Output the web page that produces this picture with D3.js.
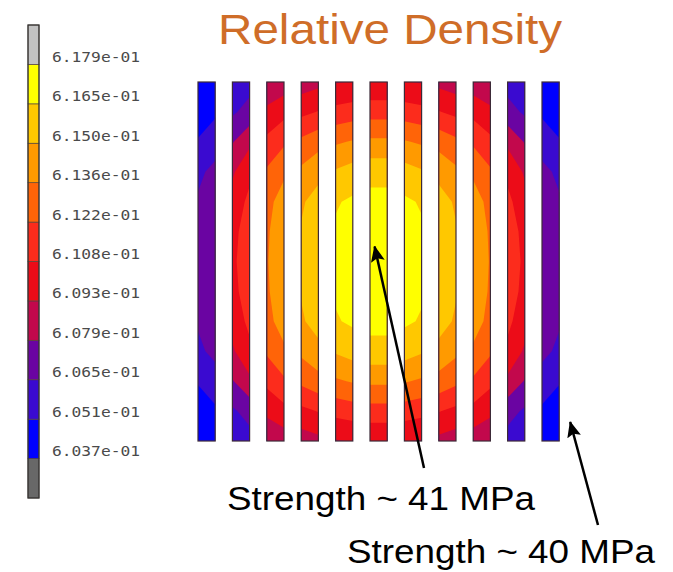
<!DOCTYPE html>
<html>
<head>
<meta charset="utf-8">
<script src="https://cdn.jsdelivr.net/npm/d3@7"></script>
<style>
  body { margin: 0; background: #fff; }
</style>
</head>
<body>
<div id="wrapper"></div>
<script>
// contour levels, bottom to top (same as the colour bar labels)
const thresholds = [0.6037, 0.6051, 0.6065, 0.6079, 0.6093, 0.6108, 0.6122, 0.6136, 0.6150, 0.6165, 0.6179]
const tickLabels = ["6.037e-01", "6.051e-01", "6.065e-01", "6.079e-01", "6.093e-01", "6.108e-01",
                    "6.122e-01", "6.136e-01", "6.150e-01", "6.165e-01", "6.179e-01"]
// one colour per band, below the first level up to above the last one
const bandColors = ["#686868", "#0000ff", "#3a0ad0", "#6a04a2", "#c2084c", "#ec0c18",
                    "#fc2c1c", "#ff6408", "#ff9a00", "#ffc800", "#ffff00", "#c2c2c2"]

// relative density read at the left and right edge of each of the 11 bars (22 columns),
// 13 rows from the top of the bars to the bottom
const densityGrid = [
  [0.60390, 0.60440, 0.60540, 0.60600, 0.60790, 0.60844, 0.60850, 0.60888, 0.60919, 0.60938, 0.60948, 0.60948, 0.60938, 0.60919, 0.60888, 0.60850, 0.60844, 0.60790, 0.60600, 0.60540, 0.60440, 0.60390],
  [0.60440, 0.60490, 0.60630, 0.60700, 0.60969, 0.61038, 0.61045, 0.61087, 0.61126, 0.61151, 0.61164, 0.61164, 0.61151, 0.61126, 0.61087, 0.61045, 0.61038, 0.60969, 0.60700, 0.60630, 0.60490, 0.60440],
  [0.60520, 0.60580, 0.60780, 0.60900, 0.61115, 0.61199, 0.61252, 0.61312, 0.61341, 0.61371, 0.61386, 0.61386, 0.61371, 0.61341, 0.61312, 0.61252, 0.61199, 0.61115, 0.60900, 0.60780, 0.60580, 0.60520],
  [0.60620, 0.60690, 0.60910, 0.61040, 0.61238, 0.61335, 0.61389, 0.61458, 0.61514, 0.61558, 0.61595, 0.61595, 0.61558, 0.61514, 0.61458, 0.61389, 0.61335, 0.61238, 0.61040, 0.60910, 0.60690, 0.60620],
  [0.60665, 0.60735, 0.60980, 0.61120, 0.61318, 0.61422, 0.61482, 0.61557, 0.61637, 0.61674, 0.61700, 0.61700, 0.61674, 0.61637, 0.61557, 0.61482, 0.61422, 0.61318, 0.61120, 0.60980, 0.60735, 0.60665],
  [0.60680, 0.60750, 0.61025, 0.61175, 0.61342, 0.61449, 0.61510, 0.61587, 0.61668, 0.61706, 0.61730, 0.61730, 0.61706, 0.61668, 0.61587, 0.61510, 0.61449, 0.61342, 0.61175, 0.61025, 0.60750, 0.60680],
  [0.60685, 0.60755, 0.61042, 0.61196, 0.61350, 0.61457, 0.61520, 0.61597, 0.61678, 0.61717, 0.61740, 0.61740, 0.61717, 0.61678, 0.61597, 0.61520, 0.61457, 0.61350, 0.61196, 0.61042, 0.60755, 0.60685],
  [0.60680, 0.60750, 0.61025, 0.61175, 0.61342, 0.61449, 0.61510, 0.61587, 0.61668, 0.61706, 0.61730, 0.61730, 0.61706, 0.61668, 0.61587, 0.61510, 0.61449, 0.61342, 0.61175, 0.61025, 0.60750, 0.60680],
  [0.60665, 0.60735, 0.60980, 0.61120, 0.61318, 0.61422, 0.61482, 0.61557, 0.61637, 0.61674, 0.61700, 0.61700, 0.61674, 0.61637, 0.61557, 0.61482, 0.61422, 0.61318, 0.61120, 0.60980, 0.60735, 0.60665],
  [0.60620, 0.60690, 0.60910, 0.61040, 0.61238, 0.61335, 0.61389, 0.61458, 0.61514, 0.61558, 0.61595, 0.61595, 0.61558, 0.61514, 0.61458, 0.61389, 0.61335, 0.61238, 0.61040, 0.60910, 0.60690, 0.60620],
  [0.60520, 0.60580, 0.60780, 0.60900, 0.61115, 0.61199, 0.61252, 0.61312, 0.61341, 0.61371, 0.61386, 0.61386, 0.61371, 0.61341, 0.61312, 0.61252, 0.61199, 0.61115, 0.60900, 0.60780, 0.60580, 0.60520],
  [0.60440, 0.60490, 0.60630, 0.60700, 0.60969, 0.61038, 0.61045, 0.61087, 0.61126, 0.61151, 0.61164, 0.61164, 0.61151, 0.61126, 0.61087, 0.61045, 0.61038, 0.60969, 0.60700, 0.60630, 0.60490, 0.60440],
  [0.60390, 0.60440, 0.60540, 0.60600, 0.60790, 0.60844, 0.60850, 0.60888, 0.60919, 0.60938, 0.60948, 0.60948, 0.60938, 0.60919, 0.60888, 0.60850, 0.60844, 0.60790, 0.60600, 0.60540, 0.60440, 0.60390],
]

const annotations = [
  { text: "Strength ~ 41 MPa", x: 227, y: 510, from: [424, 468], bar: 5, row: 6 },
  { text: "Strength ~ 40 MPa", x: 347, y: 563, from: [598, 525], bar: 10, row: 12 },
]

const width = 673
const height = 572
const nCols = densityGrid[0].length
const nRows = densityGrid.length
const barCount = nCols / 2

const svg = d3.select("#wrapper")
  .append("svg")
    .attr("width", width)
    .attr("height", height)

// grid coordinates from d3.contours: value j sits at j + 0.5
const gx = d3.scaleLinear().domain([0.5, nCols - 0.5]).range([198, 559.2])
const gy = d3.scaleLinear().domain([0.5, nRows - 0.5]).range([82, 441])

const barLeft = k => gx(2 * k + 0.5)
const barWidth = gx(1.5) - gx(0.5)

// clip the contour field to the bars
const defs = svg.append("defs")
defs.append("clipPath")
    .attr("id", "bars-clip")
  .selectAll("rect")
  .data(d3.range(barCount))
  .join("rect")
    .attr("x", k => barLeft(k))
    .attr("y", gy(0.5))
    .attr("width", barWidth)
    .attr("height", gy(nRows - 0.5) - gy(0.5))

defs.append("marker")
    .attr("id", "arrow")
    .attr("markerUnits", "userSpaceOnUse")
    .attr("viewBox", "0 0 16 14")
    .attr("markerWidth", 16)
    .attr("markerHeight", 14)
    .attr("refX", 15)
    .attr("refY", 7)
    .attr("orient", "auto")
  .append("path")
    .attr("d", "M0,0 L16,7 L0,14 L3,7 z")
    .attr("fill", "#000")

const contours = d3.contours()
  .size([nCols, nRows])
  .thresholds(thresholds)(densityGrid.flat())

const projection = d3.geoTransform({
  point: function(x, y) { this.stream.point(gx(x), gy(y)) }
})
const path = d3.geoPath(projection)

const field = svg.append("g")
    .attr("clip-path", "url(#bars-clip)")

field.append("rect")
    .attr("x", gx(0))
    .attr("y", gy(0))
    .attr("width", gx(nCols) - gx(0))
    .attr("height", gy(nRows) - gy(0))
    .attr("fill", bandColors[0])

field.selectAll("path")
  .data(contours)
  .join("path")
    .attr("d", path)
    .attr("fill", (d, i) => bandColors[i + 1])

svg.append("g")
  .selectAll("rect")
  .data(d3.range(barCount))
  .join("rect")
    .attr("x", k => barLeft(k))
    .attr("y", gy(0.5))
    .attr("width", barWidth)
    .attr("height", gy(nRows - 0.5) - gy(0.5))
    .attr("fill", "none")
    .attr("stroke", "#3c2a38")
    .attr("stroke-width", 1.2)

// colour bar
const cb = d3.scaleLinear().domain([0, bandColors.length]).range([498, 25])
const colorbar = svg.append("g")

colorbar.selectAll("rect")
  .data(bandColors)
  .join("rect")
    .attr("x", 28)
    .attr("y", (d, i) => cb(i + 1))
    .attr("width", 11)
    .attr("height", (d, i) => cb(i) - cb(i + 1))
    .attr("fill", d => d)
    .attr("stroke", "#55443a")
    .attr("stroke-width", 0.7)

colorbar.append("rect")
    .attr("x", 28)
    .attr("y", cb(bandColors.length))
    .attr("width", 11)
    .attr("height", cb(0) - cb(bandColors.length))
    .attr("fill", "none")
    .attr("stroke", "#333")
    .attr("stroke-width", 1.2)

colorbar.selectAll("text")
  .data(tickLabels)
  .join("text")
    .attr("x", 52)
    .attr("y", (d, i) => cb(i + 1) - 2.5)
    .attr("font-family", "DejaVu Sans Mono, monospace")
    .attr("font-size", 13.5)
    .attr("textLength", 88)
    .attr("lengthAdjust", "spacingAndGlyphs")
    .attr("fill", "#4a4a4a")
    .text(d => d)

// title
svg.append("text")
    .attr("x", 218)
    .attr("y", 44)
    .attr("font-family", "Liberation Sans, Arial, sans-serif")
    .attr("font-size", 43)
    .attr("textLength", 344)
    .attr("lengthAdjust", "spacingAndGlyphs")
    .attr("fill", "#cf6d28")
    .text("Relative Density")

// strength notes with arrows
const notes = svg.append("g")
notes.selectAll("line")
  .data(annotations)
  .join("line")
    .attr("x1", d => d.from[0])
    .attr("y1", d => d.from[1])
    .attr("x2", d => d.bar === 5 ? barLeft(d.bar) + barWidth / 2 - 4 : barLeft(d.bar) + barWidth + 11)
    .attr("y2", d => d.bar === 5 ? gy(d.row) : gy(d.row) - 4)
    .attr("stroke", "#000")
    .attr("stroke-width", 2.5)
    .attr("marker-end", "url(#arrow)")

notes.selectAll("text")
  .data(annotations)
  .join("text")
    .attr("x", d => d.x)
    .attr("y", d => d.y)
    .attr("font-family", "Liberation Sans, Arial, sans-serif")
    .attr("font-size", 34)
    .attr("textLength", 308)
    .attr("lengthAdjust", "spacingAndGlyphs")
    .attr("fill", "#000")
    .text(d => d.text)
</script>
</body>
</html>
